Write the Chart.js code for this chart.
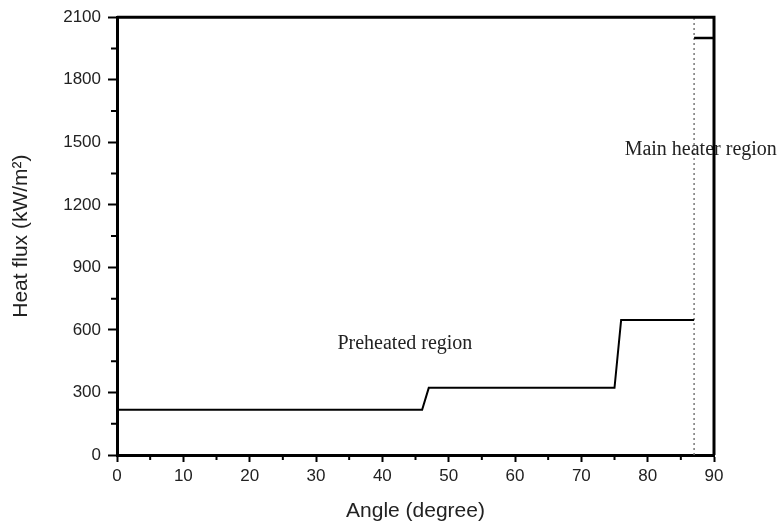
<!DOCTYPE html>
<html>
<head>
<meta charset="utf-8">
<script src="https://cdn.jsdelivr.net/npm/chart.js@4.4.0/dist/chart.umd.min.js"></script>
<style>
  html, body { margin: 0; padding: 0; background: #fff; }
  #wrap { width: 782px; height: 527px; }
</style>
</head>
<body>
<div id="wrap"><canvas id="heatFluxChart"></canvas></div>
<script>
// preheated region profile
const angles = [0, 46, 47, 75, 76, 87];
const heatFlux = [217, 217, 322, 322, 648, 648];

// main heater region
const mainAngles = [87, 90];
const mainFlux = [2000, 2000];

// boundary between the two regions
const boundaryAngle = 87;
const boundaryFlux = [0, 2100];

const xTicks = [0, 10, 20, 30, 40, 50, 60, 70, 80, 90];
const xMinorTicks = [5, 15, 25, 35, 45, 55, 65, 75, 85];
const yTicks = [0, 300, 600, 900, 1200, 1500, 1800, 2100];
const yMinorTicks = [150, 450, 750, 1050, 1350, 1650, 1950];

const tickFont = {family: '"Liberation Sans", Arial, sans-serif', size: 17};
const titleFont = {family: '"Liberation Sans", Arial, sans-serif', size: 21};

// frame, minor ticks and region labels
const extras = {
    id: 'extras',
    afterDraw(chart, args, opts) {
        const {ctx, chartArea: a, scales: {x, y}} = chart;
        ctx.save();

        ctx.fillStyle = '#222';
        ctx.font = '20px "Liberation Serif", "Times New Roman", serif';
        ctx.textAlign = 'center';
        ctx.textBaseline = 'middle';
        opts.labels.forEach(function (l) {
            ctx.fillText(l.text, x.getPixelForValue(l.angle), y.getPixelForValue(l.flux));
        });

        ctx.strokeStyle = '#000';
        ctx.lineWidth = 3;
        ctx.beginPath();
        ctx.moveTo(a.left, a.top);
        ctx.lineTo(a.right, a.top);
        ctx.lineTo(a.right, a.bottom);
        ctx.stroke();

        ctx.lineWidth = 2;
        ctx.beginPath();
        xMinorTicks.forEach(function (v) {
            const px = x.getPixelForValue(v);
            ctx.moveTo(px, a.bottom);
            ctx.lineTo(px, a.bottom + 5);
        });
        yMinorTicks.forEach(function (v) {
            const py = y.getPixelForValue(v);
            ctx.moveTo(a.left, py);
            ctx.lineTo(a.left - 6, py);
        });
        ctx.stroke();
        ctx.restore();
    }
};

const ctx = document.getElementById('heatFluxChart').getContext('2d');
new Chart(ctx, {
    type: 'line',
    data: {
        datasets: [{
            label: 'Preheated region',
            data: angles.map(function (a, i) { return {x: a, y: heatFlux[i]}; }),
            borderColor: '#000',
            borderWidth: 2,
            pointRadius: 0,
            tension: 0
        }, {
            label: 'Main heater region',
            data: mainAngles.map(function (a, i) { return {x: a, y: mainFlux[i]}; }),
            borderColor: '#000',
            borderWidth: 2.5,
            pointRadius: 0,
            tension: 0
        }, {
            label: 'Boundary',
            data: boundaryFlux.map(function (f) { return {x: boundaryAngle, y: f}; }),
            borderColor: '#777',
            borderWidth: 1.5,
            borderDash: [2, 3],
            pointRadius: 0
        }]
    },
    options: {
        responsive: true,
        maintainAspectRatio: false,
        animation: false,
        layout: {padding: {left: 0, top: 17, right: 68, bottom: 0}},
        plugins: {
            legend: {display: false},
            tooltip: {enabled: false},
            extras: {
                labels: [
                    {text: 'Preheated region', angle: 43.4, flux: 535},
                    {text: 'Main heater region', angle: 88, flux: 1465}
                ]
            }
        },
        scales: {
            x: {
                type: 'linear',
                min: 0,
                max: 90,
                afterBuildTicks: function (s) { s.ticks = xTicks.map(function (v) { return {value: v}; }); },
                afterFit: function (s) { s.height = 72; },
                ticks: {color: '#222', font: tickFont, padding: 4, maxRotation: 0,
                    callback: function (v) { return String(v); }},
                grid: {drawOnChartArea: false, tickLength: 7, tickColor: '#000', tickWidth: 2},
                border: {color: '#000', width: 3},
                title: {display: true, text: 'Angle (degree)', color: '#222', font: titleFont, padding: {top: 0, bottom: 3}}
            },
            y: {
                min: 0,
                max: 2100,
                afterBuildTicks: function (s) { s.ticks = yTicks.map(function (v) { return {value: v}; }); },
                afterFit: function (s) { s.width = 117; },
                ticks: {color: '#222', font: tickFont, padding: 7,
                    callback: function (v) { return String(v); }},
                grid: {drawOnChartArea: false, tickLength: 9, tickColor: '#000', tickWidth: 2},
                border: {color: '#000', width: 3},
                title: {display: true, text: 'Heat flux (kW/m²)', color: '#222', font: titleFont, padding: {top: 9, bottom: 0}}
            }
        }
    },
    plugins: [extras]
});
</script>
</body>
</html>
